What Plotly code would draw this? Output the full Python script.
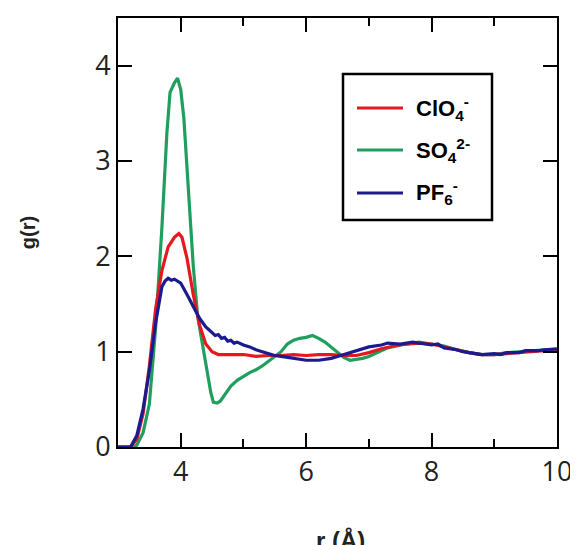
import plotly.graph_objects as go

# ClO4- (red)
r_clo4 = [3.0, 3.2, 3.3, 3.4, 3.5, 3.6, 3.7, 3.8, 3.9, 3.97, 4.02, 4.1, 4.2, 4.3, 4.4, 4.5, 4.6, 4.8,
          5.0, 5.2, 5.4, 5.6, 5.8, 6.0, 6.2, 6.4, 6.6, 6.8, 7.0, 7.2, 7.4, 7.6, 7.8, 8.0, 8.2, 8.4,
          8.6, 8.8, 9.0, 9.2, 9.4, 9.6, 9.8, 10.0]
g_clo4 = [0.0, 0.0, 0.08, 0.35, 0.85, 1.45, 1.85, 2.1, 2.2, 2.24, 2.2, 1.98, 1.6, 1.28, 1.08, 1.0, 0.97, 0.97,
          0.97, 0.95, 0.96, 0.96, 0.97, 0.96, 0.97, 0.97, 0.96, 0.96, 0.99, 1.03, 1.06, 1.08, 1.09, 1.08, 1.05, 1.02,
          0.99, 0.97, 0.97, 0.98, 0.99, 1.0, 1.01, 1.01]

# SO4 2- (green)
r_so4 = [3.0, 3.25, 3.3, 3.4, 3.5, 3.6, 3.7, 3.78, 3.83, 3.9, 3.95, 4.0, 4.05, 4.1, 4.15, 4.2, 4.27, 4.35,
         4.42, 4.48, 4.52, 4.58, 4.63, 4.7, 4.8, 4.9, 5.0, 5.1, 5.2, 5.3, 5.4, 5.5, 5.6, 5.7, 5.8, 5.9,
         6.0, 6.1, 6.2, 6.3, 6.4, 6.5, 6.6, 6.7, 6.8, 6.9, 7.0, 7.1, 7.2, 7.3, 7.5, 7.7, 7.8, 8.0,
         8.2, 8.4, 8.6, 8.8, 9.0, 9.2, 9.4, 9.6, 9.8, 10.0]
g_so4 = [0.0, 0.0, 0.02, 0.15, 0.45, 1.25, 2.3, 3.3, 3.72, 3.82, 3.87, 3.75, 3.45, 2.95, 2.45, 1.9, 1.37, 1.05,
         0.78, 0.57, 0.47, 0.46, 0.48, 0.55, 0.64, 0.7, 0.74, 0.78, 0.81, 0.85, 0.9, 0.95, 1.0, 1.08, 1.12, 1.14,
         1.15, 1.17, 1.14, 1.1, 1.05, 0.99, 0.94, 0.91, 0.92, 0.93, 0.95, 0.98, 1.01, 1.04, 1.07, 1.09, 1.1, 1.08,
         1.06, 1.02, 0.99, 0.97, 0.97, 0.99, 1.0, 1.01, 1.02, 1.02]

# PF6- (blue)
r_pf6 = [3.0, 3.2, 3.3, 3.4, 3.5, 3.6, 3.7, 3.75, 3.8, 3.85, 3.9, 3.95, 4.0, 4.1, 4.2, 4.3, 4.4, 4.5,
         4.55, 4.6, 4.65, 4.7, 4.75, 4.8, 4.85, 4.9, 5.0, 5.1, 5.2, 5.3, 5.4, 5.5, 5.6, 5.7, 5.8, 6.0,
         6.2, 6.3, 6.4, 6.5, 6.6, 6.7, 6.8, 6.9, 7.0, 7.2, 7.3, 7.5, 7.7, 7.9, 8.0, 8.1, 8.2, 8.4,
         8.5, 8.7, 8.8, 9.0, 9.1, 9.2, 9.4, 9.5, 9.7, 9.8, 10.0]
g_pf6 = [0.0, 0.0, 0.12, 0.4, 0.8, 1.3, 1.68, 1.74, 1.77, 1.75, 1.76, 1.74, 1.72, 1.6, 1.47, 1.35, 1.26, 1.2,
         1.17, 1.18, 1.14, 1.15, 1.11, 1.12, 1.09, 1.1, 1.07, 1.05, 1.02, 1.0, 0.98, 0.96, 0.95, 0.94, 0.93, 0.91,
         0.91, 0.92, 0.93, 0.95, 0.97, 0.99, 1.01, 1.03, 1.05, 1.07, 1.09, 1.08, 1.1, 1.08, 1.07, 1.08, 1.04, 1.02,
         1.0, 0.98, 0.97, 0.98, 0.97, 0.99, 0.99, 1.01, 1.01, 1.02, 1.03]

names = ["ClO<sub>4</sub><sup>-</sup>", "SO<sub>4</sub><sup>2-</sup>", "PF<sub>6</sub><sup>-</sup>"]
colors = ["#e3191f", "#1f9e5e", "#1b1b8f"]
x_title = "r (Å)"
y_title = "g(r)"

fig = go.Figure()
fig.add_trace(go.Scatter(x=r_so4, y=g_so4, mode="lines", name=names[1], showlegend=False,
                         line=dict(color=colors[1], width=3.2)))
fig.add_trace(go.Scatter(x=r_clo4, y=g_clo4, mode="lines", name=names[0], showlegend=False,
                         line=dict(color=colors[0], width=3.2)))
fig.add_trace(go.Scatter(x=r_pf6, y=g_pf6, mode="lines", name=names[2], showlegend=False,
                         line=dict(color=colors[2], width=3.2)))

tickfont = dict(family="Open Sans", size=27, color="#222")

fig.update_xaxes(range=[3, 10], tick0=0, dtick=2, automargin=False,
                 showline=True, linecolor="black", linewidth=2, mirror="ticks",
                 ticks="inside", ticklen=14, tickwidth=2, tickcolor="black",
                 showgrid=False, zeroline=False, tickfont=tickfont,
                 minor=dict(ticks="inside", ticklen=8, tickwidth=2, tickcolor="black", dtick=1, tick0=0,
                            showgrid=False))
fig.update_yaxes(range=[0, 4.5], tick0=0, dtick=1, automargin=False,
                 showline=True, linecolor="black", linewidth=2, mirror="ticks",
                 ticks="inside", ticklen=14, tickwidth=2, tickcolor="black",
                 showgrid=False, zeroline=False, tickfont=tickfont,
                 title=dict(text="<b>" + y_title + "</b>", standoff=54,
                            font=dict(family="Liberation Sans", size=20, color="#222")))

# Reference pixel geometry of the plot area -> paper coordinates
px_l, px_t = 118, 18
pw, ph = 439, 429
def xp(px):
    return (px - px_l) / pw
def yp(py):
    return (px_t + ph - py) / ph

# x-axis title, slightly cut by the bottom edge as in the reference
fig.add_annotation(xref="paper", yref="paper", x=xp(340), y=yp(540),
                   xanchor="center", yanchor="middle", showarrow=False,
                   text="<b>" + x_title + "</b>",
                   font=dict(family="Liberation Sans", size=24, color="#222"))

# Legend box (drawn manually to match the reference geometry)
fig.add_shape(type="rect", xref="paper", yref="paper",
              x0=xp(343), x1=xp(492), y0=yp(220), y1=yp(74),
              line=dict(color="black", width=2.5), fillcolor="white", layer="above")
legend_rows = [108, 150, 193]
for name, col, row in zip(names, colors, legend_rows):
    fig.add_shape(type="line", xref="paper", yref="paper",
                  x0=xp(357), x1=xp(403), y0=yp(row), y1=yp(row),
                  line=dict(color=col, width=3.2), layer="above")
    fig.add_annotation(xref="paper", yref="paper", x=xp(414), y=yp(row),
                       xanchor="left", yanchor="middle", showarrow=False,
                       text="<b>" + name + "</b>",
                       font=dict(family="Liberation Sans", size=22, color="black"))

# page body has an 8px margin, so the figure is sized to fit the 578x545 window
fig.update_layout(
    width=570, height=537,
    margin=dict(l=110, r=21, t=10, b=98),
    plot_bgcolor="white", paper_bgcolor="white",
    showlegend=False,
)

fig.write_html("out.html")
